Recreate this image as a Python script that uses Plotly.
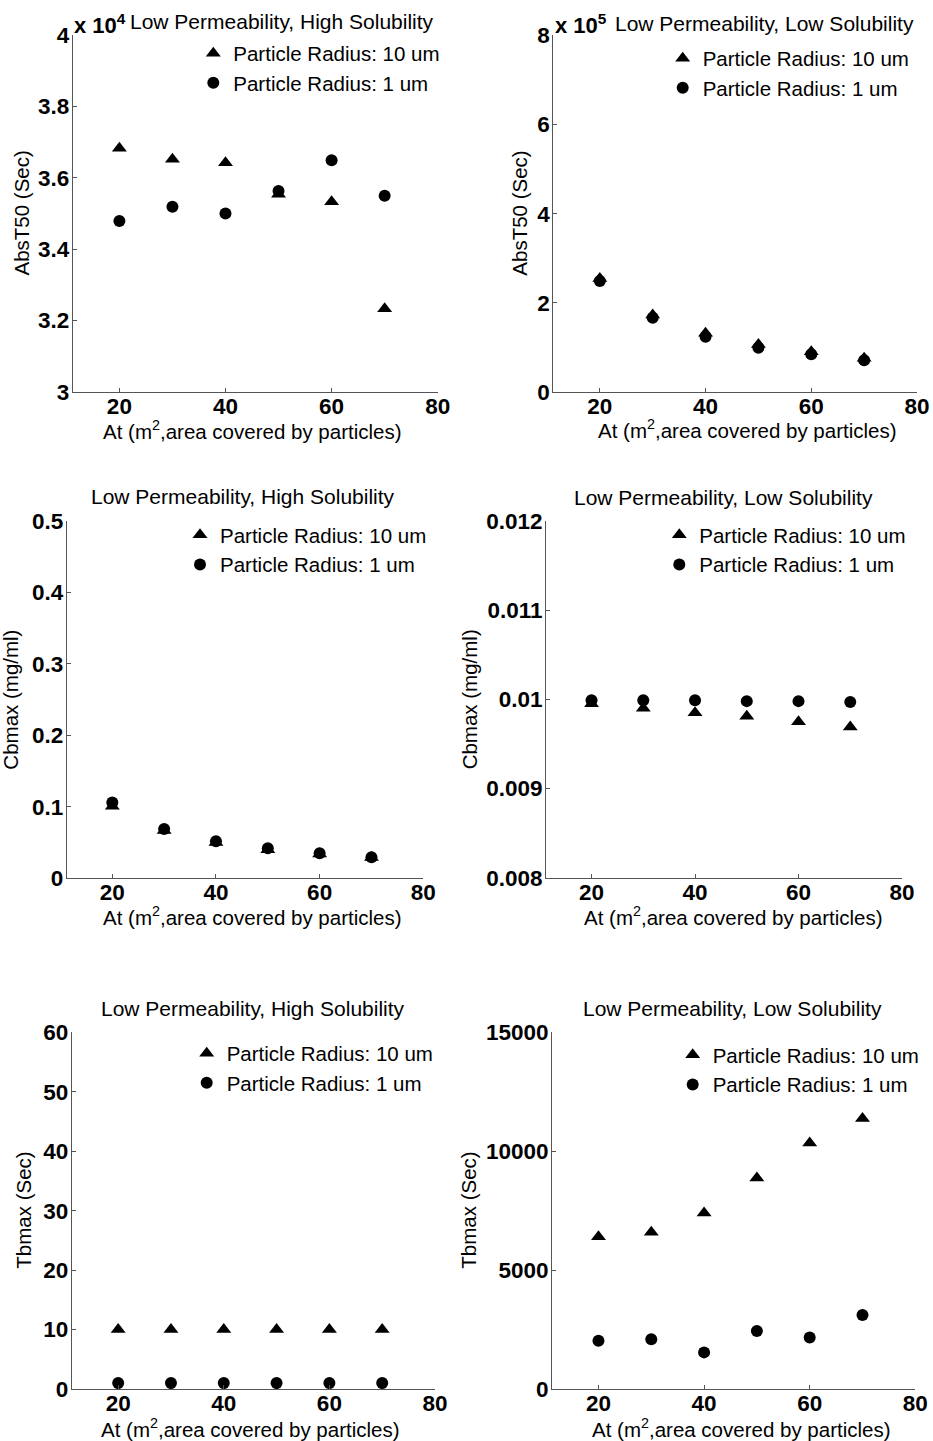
import plotly.graph_objects as go

W, H = 933, 1441

# ---------------- data ----------------
at_area = [20, 30, 40, 50, 60, 70]

# AbsT50 (Sec) - Low Permeability, High Solubility
abst50_hs_r10 = [36830, 36520, 36420, 35540, 35330, 32330]
abst50_hs_r1 = [34790, 35190, 35000, 35630, 36490, 35500]
# AbsT50 (Sec) - Low Permeability, Low Solubility
abst50_ls_r10 = [255000, 173000, 132000, 107000, 91000, 76000]
abst50_ls_r1 = [249000, 167000, 124500, 100000, 85000, 72000]
# Cbmax (mg/ml) - High Solubility
cbmax_hs_r10 = [0.101, 0.067, 0.050, 0.040, 0.034, 0.029]
cbmax_hs_r1 = [0.106, 0.069, 0.052, 0.042, 0.035, 0.0295]
# Cbmax (mg/ml) - Low Solubility
cbmax_ls_r10 = [0.00995, 0.00990, 0.00985, 0.00981, 0.00975, 0.00969]
cbmax_ls_r1 = [0.00999, 0.00999, 0.00999, 0.00998, 0.00998, 0.00997]
# Tbmax (Sec) - High Solubility
tbmax_hs_r10 = [10, 10, 10, 10, 10, 10]
tbmax_hs_r1 = [1, 1, 1, 1, 1, 1]
# Tbmax (Sec) - Low Solubility
tbmax_ls_r10 = [6400, 6590, 7400, 8870, 10350, 11370]
tbmax_ls_r1 = [2030, 2090, 1540, 2440, 2170, 3110]

x_ticks = [20, 40, 60, 80]
x_tick_labels = ["20", "40", "60", "80"]

y1_ticks = [30000, 32000, 34000, 36000, 38000, 40000]
y1_labels = ["3", "3.2", "3.4", "3.6", "3.8", "4"]
y2_ticks = [0, 200000, 400000, 600000, 800000]
y2_labels = ["0", "2", "4", "6", "8"]
y3_ticks = [0, 0.1, 0.2, 0.3, 0.4, 0.5]
y3_labels = ["0", "0.1", "0.2", "0.3", "0.4", "0.5"]
y4_ticks = [0.008, 0.009, 0.010, 0.011, 0.012]
y4_labels = ["0.008", "0.009", "0.01", "0.011", "0.012"]
y5_ticks = [0, 10, 20, 30, 40, 50, 60]
y5_labels = ["0", "10", "20", "30", "40", "50", "60"]
y6_ticks = [0, 5000, 10000, 15000]
y6_labels = ["0", "5000", "10000", "15000"]

label_r10 = "Particle Radius: 10 um"
label_r1 = "Particle Radius: 1 um"
title_hs = "Low Permeability, High Solubility"
title_ls = "Low Permeability, Low Solubility"
xtitle = "At (m<sup>2</sup>,area covered by particles)"

FONT = "Liberation Sans, Arial, sans-serif"

# panel pixel boxes: (left, right, top, bottom)
boxes = [
    (72.7, 437.7, 35.0, 392.0),
    (553.3, 917.0, 35.0, 392.3),
    (66.7, 423.3, 521.0, 878.3),
    (546.0, 902.0, 521.0, 877.7),
    (71.7, 435.0, 1032.3, 1389.0),
    (552.0, 915.3, 1032.3, 1389.0),
]
panels = [
    (abst50_hs_r10, abst50_hs_r1, y1_ticks, y1_labels, "AbsT50 (Sec)", title_hs),
    (abst50_ls_r10, abst50_ls_r1, y2_ticks, y2_labels, "AbsT50 (Sec)", title_ls),
    (cbmax_hs_r10, cbmax_hs_r1, y3_ticks, y3_labels, "Cbmax (mg/ml)", title_hs),
    (cbmax_ls_r10, cbmax_ls_r1, y4_ticks, y4_labels, "Cbmax (mg/ml)", title_ls),
    (tbmax_hs_r10, tbmax_hs_r1, y5_ticks, y5_labels, "Tbmax (Sec)", title_hs),
    (tbmax_ls_r10, tbmax_ls_r1, y6_ticks, y6_labels, "Tbmax (Sec)", title_ls),
]
# legend anchor (marker centre x, first-row centre y) in px
legend_pos = [
    (213.3, 53.3), (682.7, 58.3), (200.0, 535.0),
    (679.3, 535.0), (206.7, 1053.3), (692.7, 1055.0),
]
# title centre (x, y) in px
title_pos = [
    (281.5, 21.7), (764.0, 23.0), (243.5, 496.7),
    (723.0, 497.0), (252.5, 1008.0), (732.0, 1008.0),
]
# x-axis title centre (x, y) in px
xtitle_pos = [
    (253.0, 430.0), (747.7, 429.0), (253.0, 915.5),
    (733.8, 915.5), (250.8, 1427.5), (741.5, 1427.5),
]
# y-axis title centre x in px
ytitle_x = [21.0, 520.0, 11.0, 469.0, 24.0, 469.0]

fig = go.Figure()
layout = dict(
    width=W, height=H,
    margin=dict(l=0, r=0, t=0, b=0, autoexpand=False),
    paper_bgcolor="white", plot_bgcolor="white",
    font=dict(family=FONT, size=20, color="black"),
    showlegend=True,
)
annotations = []
AXCOL = "#555555"
TICKFONT = dict(family=FONT, size=22.5, weight="bold", color="black")

for i, (box, pdata) in enumerate(zip(boxes, panels)):
    k = "" if i == 0 else str(i + 1)
    l, r, t, b = box
    y10, y1, yt, ytl, ytitle, ptitle = pdata
    leg = "legend" + k
    fig.add_trace(go.Scatter(
        x=at_area, y=y10, mode="markers", name=label_r10,
        marker=dict(symbol="triangle-up", size=13, color="black"),
        xaxis="x" + k, yaxis="y" + k, legend=leg,
    ))
    fig.add_trace(go.Scatter(
        x=at_area, y=y1, mode="markers", name=label_r1,
        marker=dict(symbol="circle", size=12, color="black"),
        xaxis="x" + k, yaxis="y" + k, legend=leg,
    ))
    layout["xaxis" + k] = dict(
        domain=[l / W, r / W], anchor="y" + k, automargin=False,
        range=[11.2, 80], tickvals=x_ticks, ticktext=x_tick_labels,
        ticks="inside", ticklen=4, tickcolor=AXCOL, ticklabelstandoff=-6,
        showline=True, linecolor=AXCOL, linewidth=1, mirror=False,
        showgrid=False, zeroline=False, tickfont=TICKFONT,
    )
    layout["yaxis" + k] = dict(
        domain=[1 - b / H, 1 - t / H], anchor="x" + k, automargin=False,
        range=[yt[0], yt[-1]], tickvals=yt, ticktext=ytl,
        ticks="inside", ticklen=4, tickcolor=AXCOL, ticklabelstandoff=-2,
        showline=True, linecolor=AXCOL, linewidth=1, mirror=False,
        showgrid=False, zeroline=False, tickfont=TICKFONT,
    )
    lx, ly = legend_pos[i]
    layout[leg] = dict(
        x=(lx - 20) / W, y=1 - (ly - 20) / H,
        xanchor="left", yanchor="top",
        bgcolor="rgba(0,0,0,0)", borderwidth=0,
        font=dict(family=FONT, size=20.5, color="black"),
        itemwidth=30, tracegroupgap=0,
    )
    tx, ty = title_pos[i]
    annotations.append(dict(
        text=ptitle, x=tx / W, y=1 - ty / H, xref="paper", yref="paper",
        xanchor="center", yanchor="middle", showarrow=False,
        font=dict(family=FONT, size=21, color="black"),
    ))
    # x-axis title
    xx, xy = xtitle_pos[i]
    annotations.append(dict(
        text=xtitle, x=xx / W, y=1 - xy / H, xref="paper", yref="paper",
        xanchor="center", yanchor="middle", showarrow=False,
        font=dict(family=FONT, size=20.5, color="black"),
    ))
    # y-axis title
    annotations.append(dict(
        text=ytitle, x=ytitle_x[i] / W, y=1 - ((t + b) / 2) / H,
        xref="paper", yref="paper", textangle=-90,
        xanchor="center", yanchor="middle", showarrow=False,
        font=dict(family=FONT, size=20.5, color="black"),
    ))

# axis multipliers for top panels
annotations.append(dict(
    text="x 10<sup>4</sup>", x=72 / W, y=1 - 24 / H, xref="paper", yref="paper",
    xanchor="left", yanchor="middle", showarrow=False,
    font=dict(family=FONT, size=22, weight="bold", color="black"),
))
annotations.append(dict(
    text="x 10<sup>5</sup>", x=553 / W, y=1 - 24 / H, xref="paper", yref="paper",
    xanchor="left", yanchor="middle", showarrow=False,
    font=dict(family=FONT, size=22, weight="bold", color="black"),
))
layout["annotations"] = annotations
fig.update_layout(**layout)
fig.write_html("out.html")
